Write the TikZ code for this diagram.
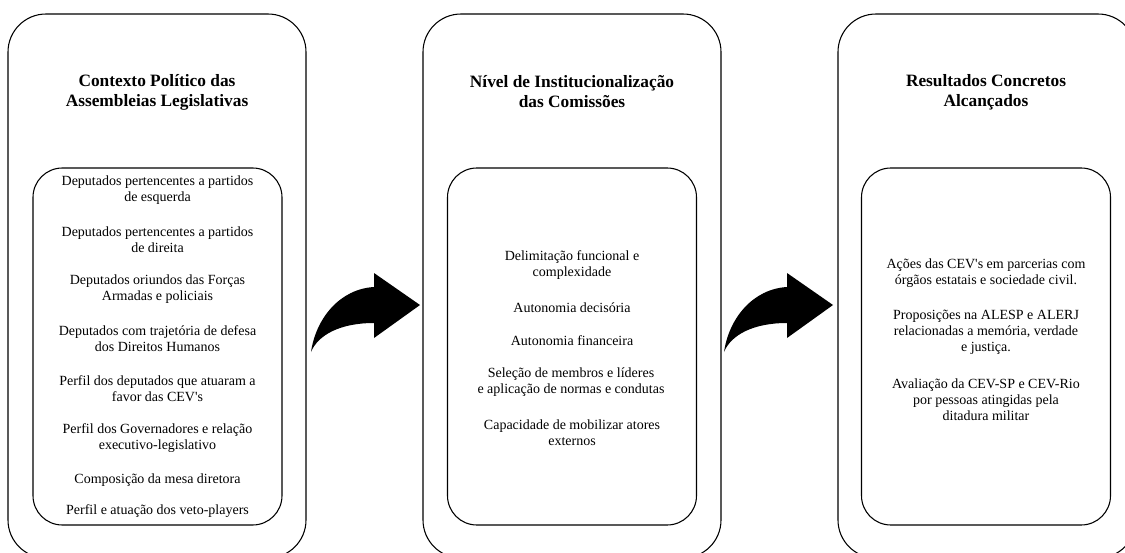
\documentclass[tikz,border=0pt]{standalone}
\usepackage{fontspec}
\setmainfont{Liberation Serif}[Ligatures=TeXOff]
\begin{document}
\begin{tikzpicture}[x=0.75pt,y=-0.75pt,
  outerbox/.style={draw, line width=0.8pt, rounded corners=28.5pt, minimum width=223.5pt, minimum height=408pt, inner sep=0pt},
  innerbox/.style={draw, line width=0.8pt, rounded corners=22pt, minimum width=186.75pt, minimum height=267.75pt, inner sep=0pt},
  titletext/.style={align=center, font=\fontsize{13}{15}\selectfont\bfseries, inner sep=0pt},
  itemtext/.style={align=center, font=\fontsize{10.5}{12}\selectfont, inner sep=0pt},
  curvedarrow/.pic={
    \fill[black] (0,0) .. controls (5,-34) and (29,-63) .. (63,-65)
      -- (63,-79) -- (109,-47) -- (63,-14) -- (63,-29)
      .. controls (29,-29) and (7,-17) .. (0,0) -- cycle;
  }]
\useasboundingbox (0,0) rectangle (1125,553);
\clip (0,0) rectangle (1125,553);

% outer boxes
\node[outerbox] (outA) at (157,286) {};
\node[outerbox] (outB) at (572,286) {};
\node[outerbox] (outC) at (987,286) {};

% inner boxes
\node[innerbox] (inA) at (157.5,346.5) {};
\node[innerbox] (inB) at (572,346.5) {};
\node[innerbox] (inC) at (986,346.5) {};

% titles
\node[titletext] (tA) at (157,92) {Contexto Político das\\Assembleias Legislativas};
\node[titletext] (tB) at (572,92) {Nível de Institucionalização\\das Comissões};
\node[titletext] (tC) at (986,92) {Resultados Concretos\\Alcançados};

% left items
\node[itemtext] (a1) at (157.5,190.5) {Deputados pertencentes a partidos\\de esquerda};
\node[itemtext] (a2) at (157.5,239.5) {Deputados pertencentes a partidos\\de direita};
\node[itemtext] (a3) at (157.5,289) {Deputados oriundos das Forças\\Armadas e policiais};
\node[itemtext] (a4) at (157.5,339) {Deputados com trajetória de defesa\\dos Direitos Humanos};
\node[itemtext] (a5) at (157.5,389) {Perfil dos deputados que atuaram a\\favor das CEV's};
\node[itemtext] (a6) at (157.5,438.5) {Perfil dos Governadores e relação\\executivo-legislativo};
\node[itemtext] (a7) at (157.5,480) {Composição da mesa diretora};
\node[itemtext] (a8) at (157.5,511) {Perfil e atuação dos veto-players};

% middle items
\node[itemtext] (b1) at (572,265.5) {Delimitação funcional e\\complexidade};
\node[itemtext] (b2) at (572,308) {Autonomia decisória};
\node[itemtext] (b3) at (572,341) {Autonomia financeira};
\node[itemtext] (b4) at (571,382.5) {Seleção de membros e líderes\\e aplicação de normas e condutas};
\node[itemtext] (b5) at (572,433) {Capacidade de mobilizar atores\\externos};

% right items
\node[itemtext] (c1) at (986,273) {Ações das CEV's em parcerias com\\órgãos estatais e sociedade civil.};
\node[itemtext] (c2) at (986,332) {Proposições na ALESP e ALERJ\\relacionadas a memória, verdade\\e justiça.};
\node[itemtext] (c3) at (986,400) {Avaliação da CEV-SP e CEV-Rio\\por pessoas atingidas pela\\ditadura militar};

% curved block arrows between the columns
\pic (arrAB) at (311,352) {curvedarrow};
\pic (arrBC) at (724,352) {curvedarrow};
\end{tikzpicture}
\end{document}
